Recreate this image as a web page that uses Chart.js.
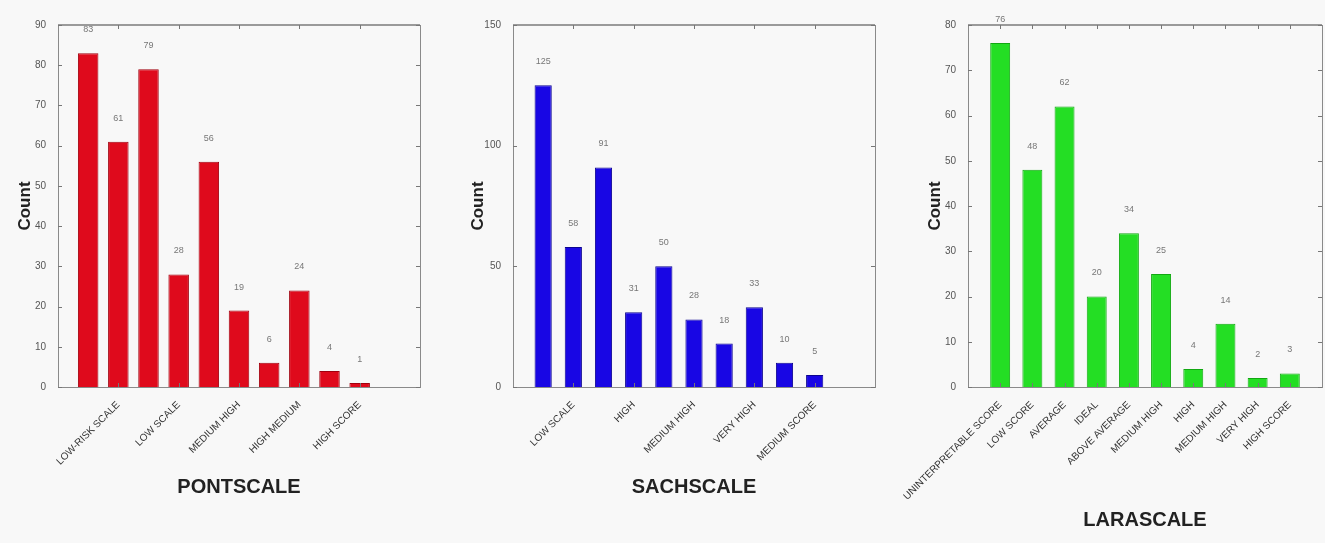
<!DOCTYPE html>
<html>
<head>
<meta charset="utf-8">
<script src="https://cdn.jsdelivr.net/npm/chart.js@4.4.0/dist/chart.umd.min.js"></script>
<style>
  html, body { margin: 0; padding: 0; background: #f8f8f8; }
  #wrap { position: relative; width: 1325px; height: 543px; overflow: hidden; }
  canvas { position: absolute; top: 0; }
</style>
</head>
<body>
<div id="wrap">
  <canvas id="pontChart" width="440" height="543" style="left:0px"></canvas>
  <canvas id="sachChart" width="450" height="543" style="left:440px"></canvas>
  <canvas id="laraChart" width="435" height="543" style="left:890px"></canvas>
</div>
<script>
// PONTSCALE
const pontValues = [83, 61, 79, 28, 56, 19, 6, 24, 4, 1];
const pontTickPos = [2, 4, 6, 8, 10];
const pontTickLabels = ['LOW-RISK SCALE', 'LOW SCALE', 'MEDIUM HIGH', 'HIGH MEDIUM', 'HIGH SCORE'];

// SACHSCALE
const sachValues = [125, 58, 91, 31, 50, 28, 18, 33, 10, 5];
const sachTickPos = [2, 4, 6, 8, 10];
const sachTickLabels = ['LOW SCALE', 'HIGH', 'MEDIUM HIGH', 'VERY HIGH', 'MEDIUM SCORE'];

// LARASCALE
const laraValues = [76, 48, 62, 20, 34, 25, 4, 14, 2, 3];
const laraTickPos = [1, 2, 3, 4, 5, 6, 7, 8, 9, 10];
const laraTickLabels = ['UNINTERPRETABLE SCORE', 'LOW SCORE', 'AVERAGE', 'IDEAL', 'ABOVE AVERAGE',
    'MEDIUM HIGH', 'HIGH', 'MEDIUM HIGH', 'VERY HIGH', 'HIGH SCORE'];

// box round the plot with inward ticks, like the original figure
const framePlugin = {
    id: 'frame',
    afterDraw: (chart) => {
        const ctx = chart.ctx;
        const a = chart.chartArea;
        const x = chart.scales.x;
        const y = chart.scales.y;
        ctx.save();
        ctx.strokeStyle = '#8a8a8a';
        ctx.lineWidth = 1;
        ctx.strokeRect(a.left + 0.5, a.top + 0.5, a.right - a.left, a.bottom - a.top);
        ctx.lineWidth = 2;
        ctx.strokeStyle = '#9a9a9a';
        ctx.beginPath();
        ctx.moveTo(a.left, a.top);
        ctx.lineTo(a.right, a.top);
        ctx.stroke();
        ctx.lineWidth = 1;
        ctx.strokeStyle = '#777';
        ctx.beginPath();
        y.ticks.forEach(t => {
            const py = Math.round(y.getPixelForValue(t.value)) + 0.5;
            ctx.moveTo(a.left, py); ctx.lineTo(a.left + 4, py);
            ctx.moveTo(a.right - 4, py); ctx.lineTo(a.right, py);
        });
        x.ticks.forEach(t => {
            const px = Math.round(x.getPixelForValue(t.value)) + 0.5;
            ctx.moveTo(px, a.bottom); ctx.lineTo(px, a.bottom - 4);
            ctx.moveTo(px, a.top); ctx.lineTo(px, a.top + 4);
        });
        ctx.stroke();
        ctx.restore();
    }
};

// count written above each bar
const valueLabels = {
    id: 'valueLabels',
    afterDatasetsDraw: (chart) => {
        const ctx = chart.ctx;
        const meta = chart.getDatasetMeta(0);
        const data = chart.data.datasets[0].data;
        ctx.save();
        ctx.font = '9px "Liberation Sans", Arial, sans-serif';
        ctx.fillStyle = '#777';
        ctx.textAlign = 'center';
        ctx.textBaseline = 'bottom';
        meta.data.forEach((bar, i) => {
            ctx.fillText(data[i].y, bar.x, bar.y - 19);
        });
        ctx.restore();
    }
};

function makeChart(id, values, tickPos, tickLabels, opt) {
    return new Chart(document.getElementById(id), {
        type: 'bar',
        data: {
            datasets: [{
                data: values.map((v, i) => ({ x: i + 1, y: v })),
                backgroundColor: opt.color,
                borderColor: opt.edge,
                borderWidth: 1,
                barPercentage: opt.barPct,
                categoryPercentage: 1
            }]
        },
        plugins: [framePlugin, valueLabels],
        options: {
            responsive: false,
            animation: false,
            layout: {
                padding: { left: opt.padLeft, right: opt.padRight, top: 25, bottom: opt.padBottom }
            },
            plugins: {
                legend: { display: false },
                tooltip: { enabled: false }
            },
            scales: {
                x: {
                    type: 'linear',
                    min: 0,
                    max: opt.xMax,
                    offset: false,
                    grid: { display: false, offset: false },
                    border: { display: false },
                    afterBuildTicks: (s) => { s.ticks = tickPos.map(v => ({ value: v })); },
                    afterFit: (s) => { s.height = opt.xHeight; },
                    ticks: {
                        autoSkip: false,
                        minRotation: 45,
                        maxRotation: 45,
                        padding: 4,
                        color: '#333',
                        font: { family: '"Liberation Sans", Arial, sans-serif', size: 10 },
                        callback: (v, i) => tickLabels[i]
                    },
                    title: {
                        display: true,
                        text: opt.title,
                        color: '#222',
                        padding: { top: 0, bottom: 0 },
                        font: { family: '"Liberation Sans", Arial, sans-serif', size: 20, weight: 'bold' }
                    }
                },
                y: {
                    min: 0,
                    max: opt.yMax,
                    grid: { display: false },
                    border: { display: false },
                    afterFit: (s) => { s.width = opt.yWidth; },
                    ticks: {
                        stepSize: opt.yStep,
                        padding: 4,
                        color: '#555',
                        font: { family: '"Liberation Sans", Arial, sans-serif', size: 10 }
                    },
                    title: {
                        display: true,
                        text: 'Count',
                        color: '#222',
                        padding: { top: 4, bottom: 0 },
                        font: { family: '"Liberation Sans", Arial, sans-serif', size: 17, weight: 'bold' }
                    }
                }
            }
        }
    });
}

makeChart('pontChart', pontValues, pontTickPos, pontTickLabels, {
    title: 'PONTSCALE', color: '#df0a1c', edge: '#a0000e', barPct: 0.68,
    xMax: 12, yMax: 90, yStep: 10,
    padLeft: 11, padRight: 20, padBottom: 44, yWidth: 47, xHeight: 112
});

makeChart('sachChart', sachValues, sachTickPos, sachTickLabels, {
    title: 'SACHSCALE', color: '#1806e4', edge: '#0c0490', barPct: 0.57,
    xMax: 12, yMax: 150, yStep: 50,
    padLeft: 24, padRight: 15, padBottom: 44, yWidth: 49, xHeight: 112
});

makeChart('laraChart', laraValues, laraTickPos, laraTickLabels, {
    title: 'LARASCALE', color: '#24de24', edge: '#12a812', barPct: 0.62,
    xMax: 11, yMax: 80, yStep: 10,
    padLeft: 31, padRight: 3, padBottom: 11, yWidth: 47, xHeight: 145
});
</script>
</body>
</html>
